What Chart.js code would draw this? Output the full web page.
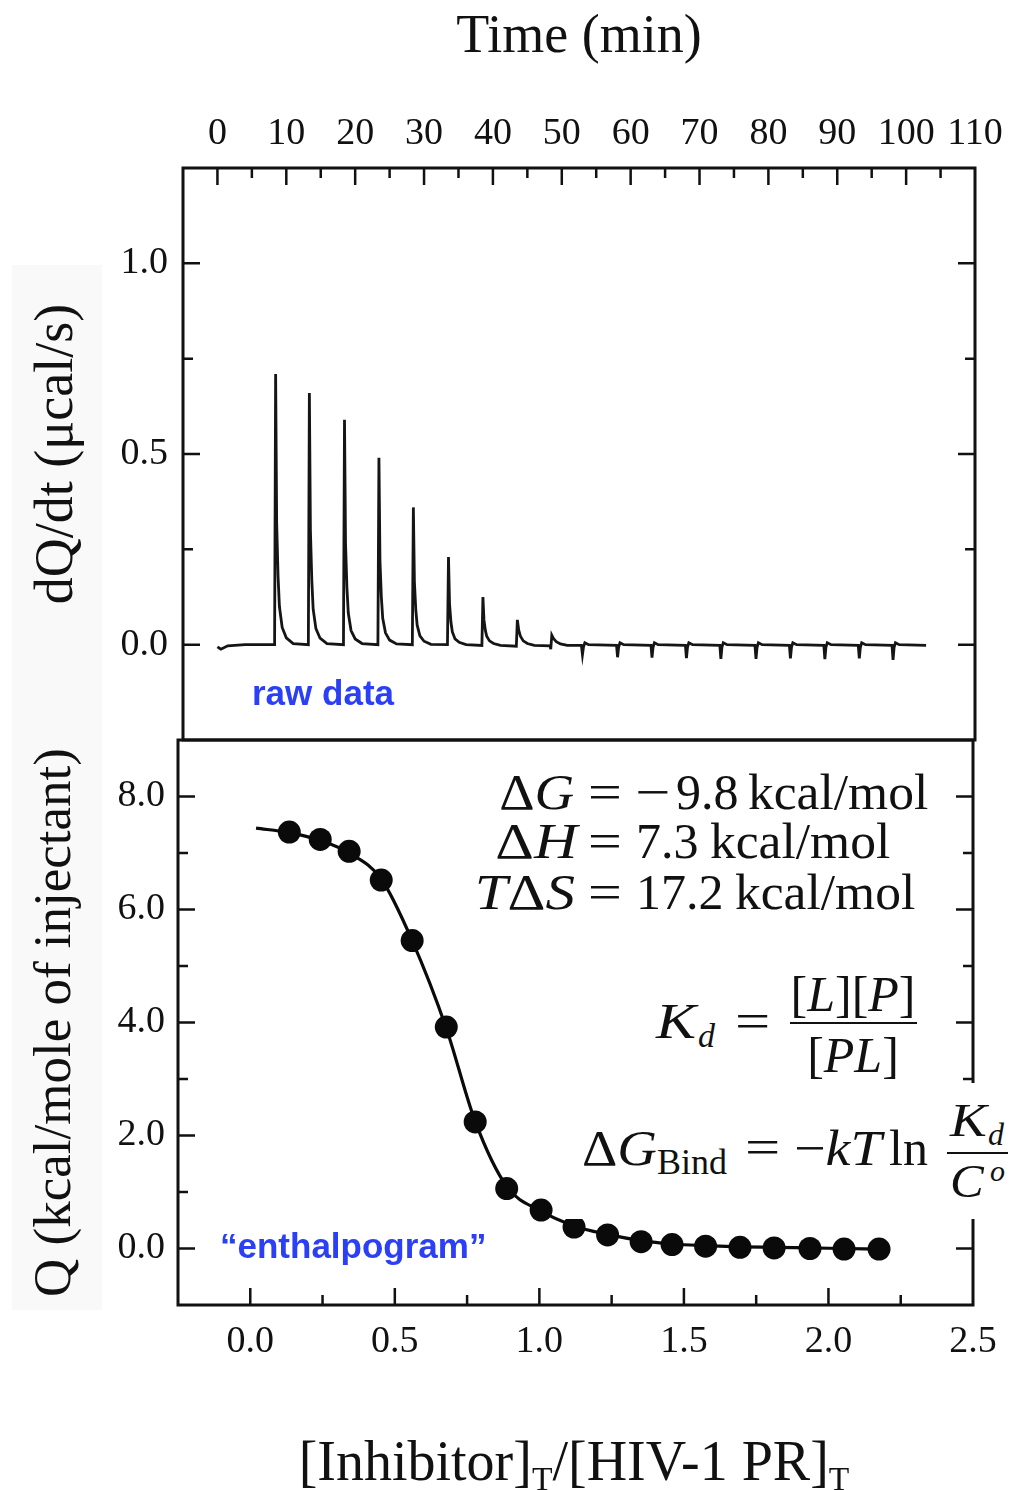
<!DOCTYPE html>
<html>
<head>
<meta charset="utf-8">
<title>ITC titration</title>
<script src="https://cdn.jsdelivr.net/npm/chart.js@4.4.1/dist/chart.umd.min.js"></script>
<style>
  html, body { margin: 0; padding: 0; background: #fff; }
  #figure { position: relative; width: 1021px; height: 1490px; overflow: hidden; background: #fff; }
  #band { position: absolute; left: 12px; top: 265px; width: 90px; height: 1045px; background: #f9f9f9; }
  canvas { position: absolute; left: 0; }
  #rawChart { top: 0; }
  #isoChart { top: 700px; }
  .box { position: absolute; background: #fff; }
  .tx { position: absolute; white-space: nowrap; line-height: 1; color: #111;
        font-family: 'Liberation Serif', 'Times New Roman', serif; }
  .blue { position: absolute; white-space: nowrap; line-height: 1; color: #2b40f5;
          font-family: 'Liberation Sans', Arial, sans-serif; font-weight: bold; }
  .bar { position: absolute; height: 0; border-top: 2px solid #111; }
  .sub { font-size: 0.6em; position: relative; top: 0.3em; }
</style>
</head>
<body>
<div id="figure">
  <div id="band"></div>
  <canvas id="rawChart" width="1021" height="745"></canvas>
  <canvas id="isoChart" width="1021" height="790"></canvas>
</div>

<script>
// raw thermogram: [time (min), dQ/dt (µcal/s)]
const thermogram = [
  [0, -0.006], [0.5, -0.012], [1.5, -0.003], [4, 0.0],
  [8.3, 0.0], [8.45, 0.71], [8.6, 0.32], [8.8, 0.18], [9.0, 0.10], [9.4, 0.045], [10.0, 0.018], [11.0, 0.003],
  [13.2, 0.0], [13.35, 0.66], [13.5, 0.30], [13.7, 0.17], [13.9, 0.093], [14.3, 0.042], [14.9, 0.017], [15.9, 0.003],
  [18.3, 0.0], [18.45, 0.59], [18.6, 0.265], [18.8, 0.15], [19.0, 0.083], [19.4, 0.037], [20.0, 0.015], [21.0, 0.003],
  [23.3, 0.0], [23.45, 0.49], [23.6, 0.22], [23.8, 0.125], [24.0, 0.069], [24.4, 0.031], [25.0, 0.012], [26.0, 0.002],
  [28.3, 0.0], [28.45, 0.36], [28.6, 0.165], [28.8, 0.092], [29.0, 0.051], [29.4, 0.023], [30.0, 0.009], [31.0, 0.001],
  [33.4, 0.0], [33.55, 0.23], [33.7, 0.108], [33.9, 0.06], [34.1, 0.034], [34.5, 0.015], [35.1, 0.006], [36.1, 0.0],
  [38.4, -0.002], [38.55, 0.125], [38.7, 0.065], [38.9, 0.038], [39.1, 0.022], [39.5, 0.010], [40.1, 0.003], [41.1, -0.002],
  [43.4, -0.004], [43.55, 0.065], [43.75, 0.038], [44.0, 0.022], [44.4, 0.010], [45.0, 0.003], [46.0, -0.002],
  [48.3, -0.003], [48.4, -0.012], [48.55, 0.025], [48.8, 0.016], [49.2, 0.008], [49.8, 0.002], [50.8, -0.002],
  [52.85, -0.002], [53.0, -0.026], [53.15, -0.006], [53.35, 0.005], [53.9, 0.0],
  [57.95, -0.002], [58.1, -0.033], [58.25, -0.007], [58.45, 0.005], [59.0, 0.0],
  [62.95, -0.002], [63.1, -0.034], [63.25, -0.007], [63.45, 0.005], [64.0, 0.0],
  [67.95, -0.002], [68.1, -0.035], [68.25, -0.007], [68.45, 0.005], [69.0, 0.0],
  [72.95, -0.002], [73.1, -0.037], [73.25, -0.007], [73.45, 0.005], [74.0, 0.0],
  [78.05, -0.002], [78.2, -0.037], [78.35, -0.007], [78.55, 0.005], [79.1, 0.0],
  [83.05, -0.002], [83.2, -0.036], [83.35, -0.007], [83.55, 0.005], [84.1, 0.0],
  [88.05, -0.002], [88.2, -0.038], [88.35, -0.007], [88.55, 0.005], [89.1, 0.0],
  [93.05, -0.002], [93.2, -0.036], [93.35, -0.007], [93.55, 0.005], [94.1, 0.0],
  [97.95, -0.002], [98.1, -0.040], [98.25, -0.007], [98.45, 0.005], [99.0, 0.0],
  [102.9, -0.002]
];

// integrated heats per injection
const molarRatio = [0.135, 0.242, 0.342, 0.453, 0.560, 0.678, 0.778, 0.887, 1.006, 1.120,
                    1.236, 1.352, 1.459, 1.575, 1.694, 1.812, 1.936, 2.054, 2.175];
const heatPerMole = [7.37, 7.24, 7.03, 6.52, 5.45, 3.92, 2.24, 1.06, 0.68, 0.38,
                     0.24, 0.12, 0.07, 0.04, 0.02, 0.01, 0.0, -0.01, -0.01];

// fitted binding curve
const fitRatio = [0.02, 0.135, 0.242, 0.342, 0.453, 0.560, 0.678, 0.778, 0.887, 1.006, 1.120,
                  1.236, 1.352, 1.459, 1.575, 1.694, 1.812, 1.936, 2.054, 2.175];
const fitHeat = [7.44, 7.36, 7.22, 7.00, 6.54, 5.45, 3.90, 2.25, 1.10, 0.66, 0.40,
                 0.25, 0.14, 0.08, 0.05, 0.03, 0.02, 0.01, 0.0, -0.01];

const serif = "'Liberation Serif', 'Times New Roman', serif";
Chart.defaults.font.family = serif;
Chart.defaults.color = '#111';

// box frame with inward ticks on the chosen sides
const frameTicks = {
  id: 'frameTicks',
  afterDatasetsDraw(chart, args, opts) {
    const { ctx, chartArea: a } = chart;
    const xs = chart.scales.x, ys = chart.scales.y;
    ctx.save();
    ctx.strokeStyle = '#111';
    ctx.lineWidth = 2.5;
    ctx.beginPath();
    xs.ticks.forEach(t => {
      if (t.value <= xs.min || t.value >= xs.max) return;
      const px = xs.getPixelForValue(t.value);
      const len = t.label ? opts.major : opts.minor;
      if (opts.xSides.includes('top')) { ctx.moveTo(px, a.top); ctx.lineTo(px, a.top + len); }
      if (opts.xSides.includes('bottom')) { ctx.moveTo(px, a.bottom); ctx.lineTo(px, a.bottom - len); }
    });
    ys.ticks.forEach(t => {
      if (t.value <= ys.min || t.value >= ys.max) return;
      const py = ys.getPixelForValue(t.value);
      const len = t.label ? opts.major : opts.minor;
      if (opts.ySides.includes('left')) { ctx.moveTo(a.left, py); ctx.lineTo(a.left + len, py); }
      if (opts.ySides.includes('right')) { ctx.moveTo(a.right, py); ctx.lineTo(a.right - len, py); }
    });
    ctx.stroke();
    ctx.lineWidth = 3;
    ctx.strokeRect(a.left, a.top, a.right - a.left, a.bottom - a.top);
    ctx.restore();
  }
};

const noGrid = { display: false, drawTicks: false };

// fixed axis sizes, and no extra room for edge labels
const fixWidth = w => s => { s.width = w; s.paddingTop = 0; s.paddingBottom = 0; };
const fixHeight = h => s => { s.height = h; s.paddingLeft = 0; s.paddingRight = 0; };

// top panel: raw power trace
new Chart(document.getElementById('rawChart'), {
  type: 'scatter',
  data: {
    datasets: [{
      data: thermogram.map(([t, p]) => ({ x: t, y: p })),
      showLine: true,
      borderColor: '#151515',
      borderWidth: 2.8,
      pointRadius: 0,
      tension: 0
    }]
  },
  options: {
    responsive: false,
    animation: false,
    devicePixelRatio: 1,
    layout: { padding: { top: 0, right: 46, bottom: 5, left: 0 } },
    plugins: {
      legend: { display: false },
      tooltip: { enabled: false },
      frameTicks: { xSides: ['top'], ySides: ['left', 'right'], major: 17, minor: 10 }
    },
    scales: {
      x: {
        type: 'linear',
        position: 'top',
        min: -5,
        max: 110,
        afterFit: fixHeight(168),
        grid: noGrid,
        border: { display: false },
        ticks: {
          stepSize: 5, autoSkip: false, maxRotation: 0, minRotation: 0, padding: 11,
          font: { size: 38 },
          callback: v => (v >= 0 && v % 10 === 0 ? String(v) : '')
        },
        title: { display: true, text: 'Time (min)', font: { size: 54 }, padding: { top: 5, bottom: 0 } }
      },
      y: {
        min: -0.25,
        max: 1.25,
        afterFit: fixWidth(183),
        grid: noGrid,
        border: { display: false },
        ticks: {
          stepSize: 0.25, autoSkip: false, padding: 15,
          font: { size: 38 },
          callback: v => (Math.round(v * 4) % 2 === 0 ? v.toFixed(1) : '')
        },
        title: { display: true, text: 'dQ/dt (μcal/s)', font: { size: 54 }, padding: { top: 25, bottom: 0 } }
      }
    }
  },
  plugins: [frameTicks]
});

// bottom panel: integrated heats and fit
new Chart(document.getElementById('isoChart'), {
  type: 'scatter',
  data: {
    datasets: [
      {
        data: molarRatio.map((r, i) => ({ x: r, y: heatPerMole[i] })),
        pointRadius: 11.5,
        pointBackgroundColor: '#0a0a0a',
        pointBorderWidth: 0,
        showLine: false
      },
      {
        data: fitRatio.map((r, i) => ({ x: r, y: fitHeat[i] })),
        showLine: true,
        borderColor: '#0a0a0a',
        borderWidth: 3.2,
        pointRadius: 0,
        cubicInterpolationMode: 'monotone'
      }
    ]
  },
  options: {
    responsive: false,
    animation: false,
    devicePixelRatio: 1,
    layout: { padding: { top: 40, right: 48, bottom: 0, left: 0 } },
    plugins: {
      legend: { display: false },
      tooltip: { enabled: false },
      frameTicks: { xSides: ['bottom'], ySides: ['left', 'right'], major: 17, minor: 10 }
    },
    scales: {
      x: {
        type: 'linear',
        position: 'bottom',
        min: -0.25,
        max: 2.5,
        afterFit: fixHeight(185),
        grid: noGrid,
        border: { display: false },
        ticks: {
          stepSize: 0.25, autoSkip: false, maxRotation: 0, minRotation: 0, padding: 14,
          font: { size: 38 },
          callback: v => (v >= 0 && Math.round(v * 4) % 2 === 0 ? v.toFixed(1) : '')
        }
      },
      y: {
        min: -1,
        max: 9,
        afterFit: fixWidth(178),
        grid: noGrid,
        border: { display: false },
        ticks: {
          stepSize: 1, autoSkip: false, padding: 13,
          font: { size: 38 },
          callback: v => (v >= 0 && v <= 8 && v % 2 === 0 ? v.toFixed(1) : '')
        },
        title: { display: true, text: 'Q (kcal/mole of injectant)', font: { size: 53 }, padding: { top: 24, bottom: 0 } }
      }
    }
  },
  plugins: [frameTicks]
});

// text overlays (formulas, labels)
const figure = document.getElementById('figure');

function addBox(x1, y1, x2, y2) {
  const d = document.createElement('div');
  d.className = 'box';
  Object.assign(d.style, { left: x1 + 'px', top: y1 + 'px', width: (x2 - x1) + 'px', height: (y2 - y1) + 'px' });
  figure.appendChild(d);
}

function addBar(x1, x2, y) {
  const d = document.createElement('div');
  d.className = 'bar';
  Object.assign(d.style, { left: x1 + 'px', top: (y - 1) + 'px', width: (x2 - x1) + 'px' });
  figure.appendChild(d);
}

// baseline-anchored text; sx widens the glyphs a little
function addText(html, x, baseline, size, align = 'left', sx = 1, cls = 'tx') {
  const d = document.createElement('div');
  d.className = cls;
  d.innerHTML = html;
  const ascent = cls === 'blue' ? 0.8465 : 0.8375;
  d.style.fontSize = size + 'px';
  d.style.top = (baseline - ascent * size) + 'px';
  if (align === 'right') {
    d.style.right = (1021 - x) + 'px';
    d.style.transformOrigin = 'right center';
    d.style.transform = `scaleX(${sx})`;
  } else if (align === 'center') {
    d.style.left = x + 'px';
    d.style.transform = `translateX(-50%) scaleX(${sx})`;
  } else {
    d.style.left = x + 'px';
    d.style.transformOrigin = 'left center';
    d.style.transform = `scaleX(${sx})`;
  }
  figure.appendChild(d);
}

addText('raw data', 252, 705, 35, 'left', 1, 'blue');
addText('“enthalpogram”', 220, 1258, 35, 'left', 1, 'blue');

// thermodynamic parameters, aligned on "="
addText('Δ<i>G</i>', 574, 809, 50, 'right', 1.1);
addText('=', 588, 809, 50, 'left', 1.2);
addText('−', 635, 809, 50, 'left', 1.25);
addText('9.8', 676, 809, 50);
addText('kcal/mol', 748, 809, 50, 'left', 1.03);
addText('Δ<i>H</i>', 577, 858, 50, 'right', 1.2);
addText('=', 588, 858, 50, 'left', 1.2);
addText('7.3', 636, 858, 50);
addText('kcal/mol', 710, 858, 50, 'left', 1.03);
addText('<i>T</i>Δ<i>S</i>', 575, 909, 50, 'right', 1.18);
addText('=', 588, 909, 50, 'left', 1.2);
addText('17.2', 636, 909, 50);
addText('kcal/mol', 735, 909, 50, 'left', 1.03);

// dissociation constant
addBox(640, 938, 917, 1083);
addText('<i>K</i>', 656, 1038, 50, 'left', 1.2);
addText('<i>d</i>', 698, 1047, 34);
addText('=', 735, 1038, 50, 'left', 1.25);
addBar(790, 917, 1023);
addText('[<i>L</i>][<i>P</i>]', 853, 1011, 50, 'center');
addText('[<i>PL</i>]', 853, 1072, 50, 'center');

// binding free energy
addBox(564, 1083, 1010, 1219);
addText('Δ<i>G</i>', 582, 1165, 50, 'left', 1.1);
addText('Bind', 657, 1174, 36);
addText('=', 745, 1164, 50, 'left', 1.25);
addText('−<i>kT</i>', 794, 1165, 50, 'left', 1.12);
addText('ln', 889, 1165, 50);
addBar(947, 1008, 1153);
addText('<i>K</i>', 950, 1137, 46, 'left', 1.2);
addText('<i>d</i>', 988, 1145, 32);
addText('<i>C</i>', 950, 1198, 46, 'left', 1.1);
addText('<i>o</i>', 990, 1181, 30);

// x title of the lower panel, with subscripts
addText('[Inhibitor]<span class="sub">T</span>/[HIV-1 PR]<span class="sub">T</span>', 574, 1480, 56, 'center');
</script>
</body>
</html>
